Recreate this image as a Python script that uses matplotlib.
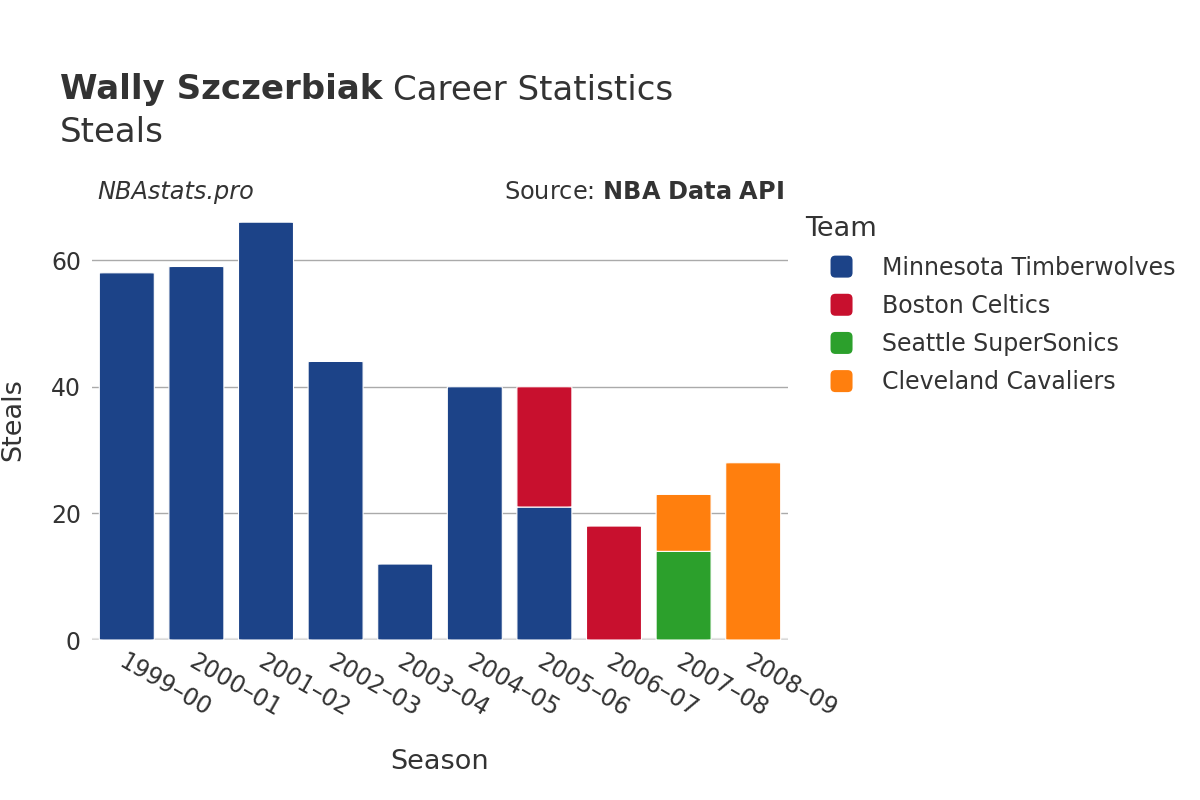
import matplotlib.pyplot as plt
from matplotlib.patches import FancyBboxPatch, Patch
from matplotlib.legend_handler import HandlerPatch

# data
seasons = ['1999–00', '2000–01', '2001–02', '2002–03', '2003–04',
           '2004–05', '2005–06', '2006–07', '2007–08', '2008–09']
teams = ['Minnesota Timberwolves', 'Boston Celtics', 'Seattle SuperSonics', 'Cleveland Cavaliers']
colors = ['#1c4388', '#c8102e', '#2ca02c', '#ff7f0e']

minnesota = [58, 59, 66, 44, 12, 40, 21, 0, 0, 0]
boston = [0, 0, 0, 0, 0, 0, 19, 18, 0, 0]
seattle = [0, 0, 0, 0, 0, 0, 0, 0, 14, 0]
cleveland = [0, 0, 0, 0, 0, 0, 0, 0, 9, 28]
series = [minnesota, boston, seattle, cleveland]

txt = '#333333'
fig = plt.figure(figsize=(12, 8), dpi=100)
ax = fig.add_axes([92 / 1200, 160 / 800, 696 / 1200, 440 / 800])

bar_w = 0.79
x = list(range(len(seasons)))
bottoms = [0] * len(seasons)
for vals, col in zip(series, colors):
    for i, v in enumerate(vals):
        if v <= 0:
            continue
        # rounded bar segments
        p = FancyBboxPatch((i - bar_w / 2, bottoms[i]), bar_w, v,
                           boxstyle='round,pad=0,rounding_size=0.06',
                           mutation_aspect=6.33 / 69.6 * 10,
                           facecolor=col, edgecolor='white', linewidth=0.8)
        ax.add_patch(p)
        bottoms[i] += v

ax.set_xlim(-0.5, len(seasons) - 0.5)
ax.set_ylim(0, 69.5)
ax.set_yticks([0, 20, 40, 60])
ax.set_xticks(x)
ax.set_xticklabels(seasons, rotation=-30, ha='left', va='top',
                   rotation_mode='anchor', fontsize=17, color=txt)
ax.tick_params(axis='y', labelsize=17, labelcolor=txt, length=0, pad=8)
ax.tick_params(axis='x', length=0, pad=7)
ax.grid(axis='y', color='#aaaaaa', linewidth=1)
ax.set_axisbelow(True)
for s in ax.spines.values():
    s.set_visible(False)
ax.axhline(0, color='#e5e5e5', linewidth=3, zorder=0.5)

ax.set_xlabel('Season', fontsize=19.5, color=txt, labelpad=20)
ax.set_ylabel('Steals', fontsize=19.5, color=txt, labelpad=18)

fig.text(60 / 1200, 1 - 90 / 800, 'Wally Szczerbiak', fontsize=24.5, fontweight='bold',
         color=txt, va='center')
fig.text(393 / 1200, 1 - 90 / 800, 'Career Statistics', fontsize=24.5, color=txt, va='center')
fig.text(60 / 1200, 1 - 132 / 800, 'Steals', fontsize=24.5, color=txt, va='center')
fig.text(97 / 1200, 1 - 192 / 800, 'NBAstats.pro', fontsize=17.3, style='italic',
         color=txt, va='center')
fig.text(784 / 1200, 1 - 192 / 800, r'Source: $\bf{NBA\ Data\ API}$', fontsize=17.3,
         color=txt, va='center', ha='right')


def rounded_square(legend, orig_handle, xdescent, ydescent, width, height, fontsize):
    s = 22 * 72 / 100.0
    return FancyBboxPatch((width / 2 - s / 2 - xdescent, height / 2 - s / 2 - ydescent), s, s,
                          boxstyle='round,pad=0,rounding_size=%f' % (s * 0.22))


handles = [Patch(facecolor=c, edgecolor='none') for c in colors]
leg = ax.legend(handles, teams, loc='upper left', bbox_to_anchor=(789 / 1200, 1 - 199 / 800),
                bbox_transform=fig.transFigure, frameon=False, fontsize=17,
                title='Team', title_fontsize=19.5, alignment='left',
                handlelength=3.05, handleheight=1.0, handletextpad=0.17,
                labelspacing=0.6, borderpad=0.2,
                handler_map={Patch: HandlerPatch(patch_func=rounded_square)})
for t in leg.get_texts():
    t.set_color(txt)
leg.get_title().set_color(txt)

fig.savefig('out.png', dpi=100, facecolor='white')
